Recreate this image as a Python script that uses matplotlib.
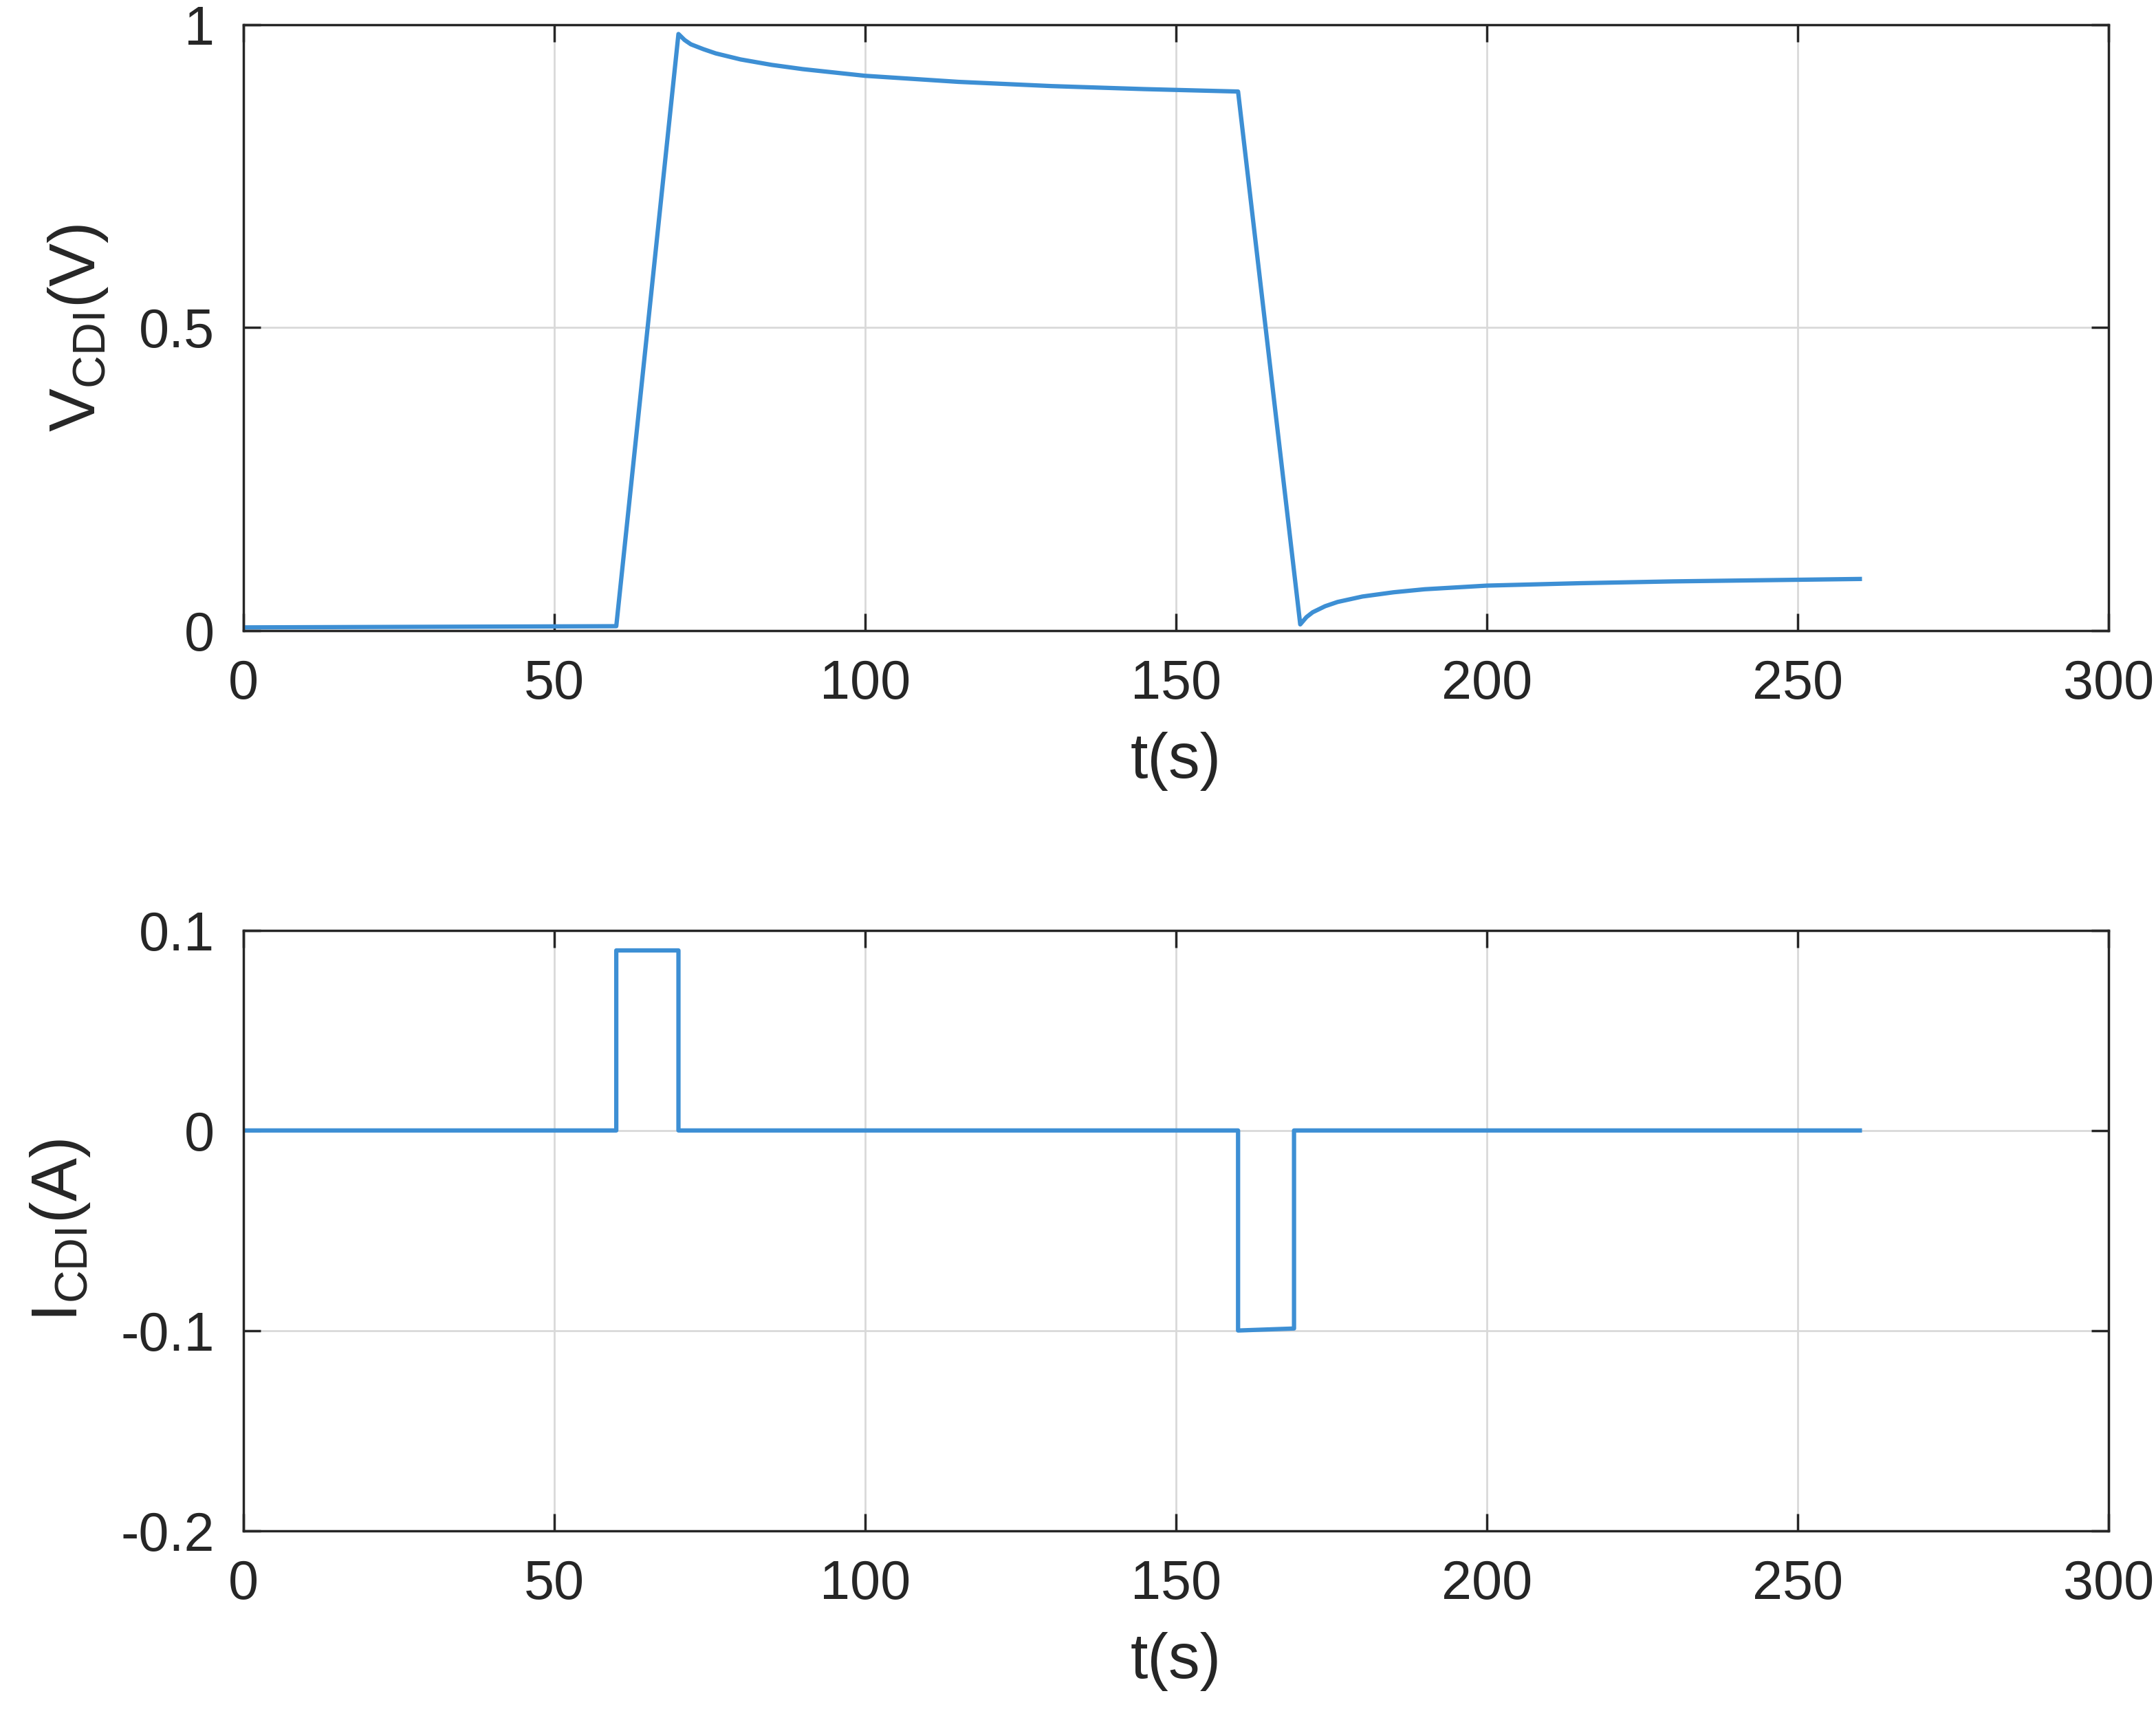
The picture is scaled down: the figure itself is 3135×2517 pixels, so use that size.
import matplotlib
matplotlib.use("Agg")
import matplotlib.pyplot as plt

v_t = [0, 60, 70, 71, 72, 74, 76, 80, 85, 90, 100, 115, 130, 145, 160, 170, 171, 172, 174, 176, 180, 185, 190, 200, 215, 230, 245, 260]
v_y = [0.005, 0.007, 0.985, 0.975, 0.968, 0.96, 0.953, 0.943, 0.934, 0.927, 0.916, 0.906, 0.899, 0.894, 0.89, 0.01, 0.022, 0.03, 0.04, 0.047, 0.056, 0.063, 0.068, 0.074, 0.078, 0.081, 0.083, 0.085]
i_t = [0, 60, 60, 70, 70, 160, 160, 169, 169, 260]
i_y = [0, 0, 0.09, 0.09, 0, 0, -0.1, -0.099, 0, 0]

xticks = [0, 50, 100, 150, 200, 250, 300]
color = "#3d8fd4"

plt.rcParams['font.family'] = ['Liberation Sans', 'DejaVu Sans']
fig = plt.figure(figsize=(31.35, 25.17), dpi=100)
ax1 = fig.add_axes([0.1128, 0.6358, 0.978 - 0.1128, 0.3498])
ax2 = fig.add_axes([0.1128, 0.1158, 0.978 - 0.1128, 0.3467])

for ax in (ax1, ax2):
    ax.set_xlim(0, 300)
    ax.set_xticks(xticks)
    ax.grid(True, color="#d9d9d9", linewidth=2)
    ax.tick_params(direction="in", length=18, width=2.5, labelsize=57, top=True, right=True, pad=30, colors="#262626")
    for s in ax.spines.values():
        s.set_linewidth(2.5)
        s.set_color("#262626")
    ax.set_xlabel("t(s)", fontsize=66, color="#262626", labelpad=22)

ax1.plot(v_t, v_y, color=color, linewidth=4.5)
ax1.set_ylim(0, 1)
ax1.set_yticks([0, 0.5, 1])
ax1.set_yticklabels(["0", "0.5", "1"])
ax1.set_ylabel(r"V$_{\mathregular{CDI}}$(V)", fontsize=68, color="#262626", labelpad=30)

ax2.plot(i_t, i_y, color=color, linewidth=4.5)
ax2.set_ylim(-0.2, 0.1)
ax2.set_yticks([-0.2, -0.1, 0, 0.1])
ax2.set_yticklabels(["-0.2", "-0.1", "0", "0.1"])
ax2.set_ylabel(r"I$_{\mathregular{CDI}}$(A)", fontsize=68, color="#262626", labelpad=30)

fig.savefig("out.png", dpi=100)
